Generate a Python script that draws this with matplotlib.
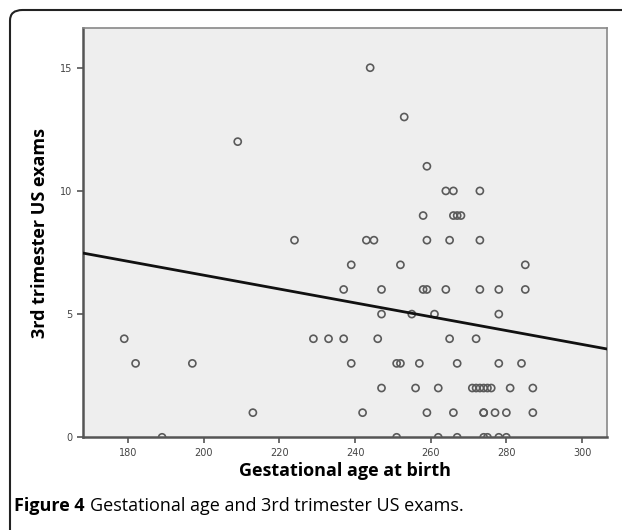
import matplotlib.pyplot as plt
import numpy as np
from matplotlib.patches import FancyBboxPatch

# gestational age (days) and number of 3rd trimester US exams, per row of y
ages_0 = [189, 251, 262, 267, 274, 275, 278, 280]
ages_1 = [213, 242, 259, 266, 274, 274, 277, 280, 287]
ages_2 = [247, 256, 262, 271, 272, 273, 274, 275, 276, 281, 287]
ages_3 = [182, 197, 239, 251, 252, 257, 267, 278, 284]
ages_4 = [179, 229, 233, 237, 246, 265, 272]
ages_5 = [247, 255, 261, 278]
ages_6 = [237, 247, 258, 259, 264, 273, 278, 285]
ages_7 = [239, 252, 285]
ages_8 = [224, 243, 245, 259, 265, 273]
ages_9 = [258, 266, 267, 268]
ages_10 = [264, 266, 273]
ages_11 = [259]
ages_12 = [209]
ages_13 = [253]
ages_15 = [244]

rows = {0: ages_0, 1: ages_1, 2: ages_2, 3: ages_3, 4: ages_4, 5: ages_5,
        6: ages_6, 7: ages_7, 8: ages_8, 9: ages_9, 10: ages_10, 11: ages_11,
        12: ages_12, 13: ages_13, 15: ages_15}

# fit line
fit_slope = -0.0281
fit_intercept = 12.20

x_ticks = [180, 200, 220, 240, 260, 280, 300]
y_ticks = [0, 5, 10, 15]

x = []
y = []
for exams, ages in rows.items():
    x += ages
    y += [exams] * len(ages)

W, H = 622, 530
fig = plt.figure(figsize=(W / 100, H / 100), dpi=100)
fig.patch.set_facecolor('white')

# rounded frame round the figure
frame = FancyBboxPatch((10 / W, -20 / H), 650 / W, 540 / H,
                       boxstyle='round,pad=0,rounding_size=0.02',
                       transform=fig.transFigure, fill=False,
                       edgecolor='#222222', linewidth=1.5)
fig.patches.append(frame)

ax = fig.add_axes([83 / W, 1 - 437.3 / H, (607 - 83) / W, (437.3 - 28.3) / H])
ax.set_facecolor('#eeeeee')

ax.scatter(x, y, s=26, facecolors='none', edgecolors='#5a5a5a', linewidths=1.2, zorder=3)

xlim = (168.1, 306.6)
xs = np.array(xlim)
ax.plot(xs, fit_intercept + fit_slope * xs, color='#111111', linewidth=2, zorder=4)

ax.set_xlim(xlim)
ax.set_ylim(0, 16.6)
ax.set_xticks(x_ticks)
ax.set_yticks(y_ticks)
ax.tick_params(direction='out', length=4, width=1.2, colors='#555555',
               labelsize=7, labelcolor='#444444')

for side in ['top', 'right']:
    ax.spines[side].set_color('#888888')
    ax.spines[side].set_linewidth(1.2)
for side in ['left', 'bottom']:
    ax.spines[side].set_color('#555555')
    ax.spines[side].set_linewidth(1.8)

ax.set_xlabel('Gestational age at birth', fontsize=13, fontweight='bold',
              family='Open Sans', labelpad=3)
ax.set_ylabel('3rd trimester US exams', fontsize=13, fontweight='bold',
              family='Open Sans', labelpad=8)

t1 = fig.text(14 / W, 1 - 506 / H, 'Figure 4', fontsize=13, fontweight='bold',
              family='Open Sans', va='center', ha='left')
fig.canvas.draw()
bb = t1.get_window_extent()
fig.text((bb.x1 + 5) / W, 1 - 506 / H, 'Gestational age and 3rd trimester US exams.',
         fontsize=13, family='Open Sans', va='center', ha='left')

fig.savefig('out.png', dpi=100)
